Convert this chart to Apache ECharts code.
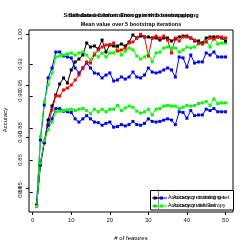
<!DOCTYPE html>
<html>
<head>
<meta charset="utf-8">
<script src="https://cdn.jsdelivr.net/npm/echarts@6/dist/echarts.min.js"></script>
<style>html,body{margin:0;padding:0;background:#fff;}#c{width:249px;height:249px;}</style>
</head>
<body>
<div id="c"></div>
<script>
// ---- data ----
const features = [1,2,3,4,5,6,7,8,9,10,11,12,13,14,15,16,17,18,19,20,21,22,23,24,25,26,27,28,29,30,31,32,33,34,35,36,37,38,39,40,41,42,43,44,45,46,47,48,49,50];
const trainAcc = [0.8322,0.8725,0.8944,0.9113,0.9175,0.9275,0.9275,0.9250,0.9244,0.9238,0.9175,0.9144,0.9175,0.9206,0.9175,0.9144,0.9138,0.9113,0.9131,0.9144,0.9094,0.9100,0.9119,0.9106,0.9119,0.9150,0.9119,0.9113,0.9131,0.9175,0.9150,0.9144,0.9150,0.9163,0.9175,0.9163,0.9119,0.9244,0.9238,0.9181,0.9256,0.9206,0.9213,0.9213,0.9269,0.9256,0.9275,0.9244,0.9244,0.9244];
const testAcc = [0.8320,0.8744,0.8963,0.9069,0.9144,0.9244,0.9250,0.9256,0.9263,0.9269,0.9256,0.9269,0.9275,0.9256,0.9225,0.9269,0.9244,0.9269,0.9244,0.9269,0.9269,0.9306,0.9256,0.9281,0.9300,0.9288,0.9250,0.9231,0.9244,0.9269,0.9213,0.9269,0.9275,0.9300,0.9306,0.9300,0.9300,0.9275,0.9288,0.9306,0.9300,0.9306,0.9325,0.9331,0.9344,0.9306,0.9369,0.9325,0.9331,0.9331];
const trainAccEntropy = [0.8330,0.8744,0.8949,0.9164,0.9300,0.9408,0.9515,0.9574,0.9525,0.9652,0.9730,0.9759,0.9798,0.9915,0.9876,0.9886,0.9857,0.9944,0.9827,0.9896,0.9886,0.9886,0.9905,0.9886,0.9925,0.9993,0.9964,0.9983,0.9974,0.9974,0.9964,0.9964,0.9944,0.9964,0.9964,0.9935,0.9954,0.9974,0.9983,0.9983,0.9964,0.9935,0.9935,0.9915,0.9964,0.9974,0.9974,0.9974,0.9964,0.9935];
const testAccEntropy = [0.8330,0.8725,0.8940,0.9115,0.9261,0.9398,0.9398,0.9457,0.9476,0.9505,0.9554,0.9603,0.9671,0.9730,0.9720,0.9798,0.9847,0.9876,0.9896,0.9896,0.9915,0.9837,0.9847,0.9866,0.9915,0.9925,0.9964,1.0000,0.9974,0.9788,0.9964,0.9983,0.9964,0.9983,0.9944,0.9818,0.9964,0.9935,0.9974,0.9974,0.9964,0.9944,0.9915,0.9905,0.9925,0.9964,0.9954,0.9974,0.9974,0.9964];
const xTicks = [0,10,20,30,40,50];
const yTicksA = [0.84,0.86,0.88,0.90,0.92];
const yTicksB = [0.85,0.90,0.95,1.00];
const titles = ['Small dataset: Information gain with bootstrapping','Simulated dataset: Entropy with bootstrapping'];
const subtitle = 'Mean value over 5 bootstrap iterations';
const xName = '# of features';
const yName = 'Accuracy';
const legendRow1 = ['Accuracy on training set','Accuracy on training set'];
const legendRow2 = ['Accuracy on test set','Accuracy with Entropy'];

const FONT = 'Liberation Sans, Arial, sans-serif';
const pairs = ys => features.map((x,i)=>[x, ys[i]]);
function lineSeries(name, ys, color, yIdx){
  return {
    name, type:'line', data: pairs(ys), yAxisIndex: yIdx,
    symbol:'rect', symbolSize:3, showSymbol:true,
    lineStyle:{color, width:1}, itemStyle:{color},
    animation:false, silent:true
  };
}
function yAxisDef(ticks, min, max){
  return {
    type:'value', position:'left', min, max, offset:0,
    axisLine:{show:false}, splitLine:{show:false},
    axisTick:{show:true, inside:false, length:3, customValues:ticks, lineStyle:{color:'#000', width:1}},
    axisLabel:{show:true, rotate:90, margin:6, fontSize:6, color:'#222', fontFamily:FONT,
      customValues:ticks, formatter: v => v.toFixed(2)}
  };
}
const chart = echarts.init(document.getElementById('c'), null, {renderer:'canvas'});
const gText = (text, x, y, opts={}) => ({
  type:'text', x, y, rotation: opts.rot || 0, silent:true,
  style:{text, fill:'#000', font:(opts.bold?'bold ':'') + (opts.size||6) + 'px ' + FONT,
    align: opts.align || 'center', verticalAlign:'middle'}
});
const graphics = [];
titles.forEach(t => graphics.push(gText(t, 131, 15, {bold:true, size:5.6})));
graphics.push(gText(subtitle, 131, 24, {bold:true, size:5.5}));
graphics.push(gText(xName, 131, 238, {size:6}));
graphics.push(gText(yName, 5, 120, {size:6, rot:Math.PI/2}));
// legend box
graphics.push({type:'rect', shape:{x:150.5,y:190.5,width:83,height:19.5}, style:{fill:'#fff', stroke:'#000', lineWidth:1}, z:50});
graphics.push({type:'line', shape:{x1:158.5,y1:190.5,x2:158.5,y2:210}, style:{stroke:'#888', lineWidth:1}, z:51});
graphics.push({type:'line', shape:{x1:152,y1:198,x2:160,y2:198}, style:{stroke:'#400000', lineWidth:1}, z:51});
graphics.push({type:'line', shape:{x1:156,y1:198,x2:167,y2:198}, style:{stroke:'#0000FF', lineWidth:1}, z:52});
graphics.push({type:'rect', shape:{x:153.5,y:196.5,width:3,height:3}, style:{fill:'#000'}, z:52});
graphics.push({type:'rect', shape:{x:160,y:196.5,width:3,height:3}, style:{fill:'#0000FF'}, z:52});
graphics.push({type:'line', shape:{x1:152,y1:206,x2:167,y2:206}, style:{stroke:'#00FF00', lineWidth:1}, z:52});
graphics.push({type:'rect', shape:{x:153.5,y:204.5,width:3,height:3}, style:{fill:'#00CC00'}, z:52});
graphics.push({type:'rect', shape:{x:160,y:204.5,width:3,height:3}, style:{fill:'#00FF00'}, z:52});
legendRow1.forEach((t,i) => { const e = gText(t, 168 + i*5, 198, {size:5.3, align:'left'}); e.z = 53; graphics.push(e); });
legendRow2.forEach((t,i) => { const e = gText(t, 168 + i*5, 206, {size:5.3, align:'left'}); e.z = 53; graphics.push(e); });

chart.setOption({
  animation:false,
  backgroundColor:'#fff',
  grid:{left:29, top:30, right:16, bottom:37, show:true, borderColor:'#000', borderWidth:1, backgroundColor:'transparent'},
  xAxis:{
    type:'value', min:-0.96, max:51.96,
    axisLine:{show:false}, splitLine:{show:false},
    axisTick:{show:true, length:3, customValues:xTicks, lineStyle:{color:'#000'}},
    axisLabel:{show:true, fontSize:6, color:'#222', fontFamily:FONT, margin:5, customValues:xTicks}
  },
  yAxis:[ yAxisDef(yTicksA, 0.8275, 0.94125), yAxisDef(yTicksB, 0.82663, 1.0042) ],
  series:[
    lineSeries('Accuracy on training set', trainAcc, '#0000FF', 0),
    lineSeries('Accuracy on test set', testAcc, '#00FF00', 0),
    lineSeries('Accuracy on training set (Entropy)', trainAccEntropy, '#000000', 1),
    lineSeries('Accuracy on test set (Entropy)', testAccEntropy, '#FF0000', 1),
    lineSeries('Accuracy on training set (shared)', trainAcc, '#0000FF', 1),
    lineSeries('Accuracy on test set (shared)', testAcc, '#00FF00', 1)
  ],
  graphic: graphics
});
</script>
</body>
</html>
